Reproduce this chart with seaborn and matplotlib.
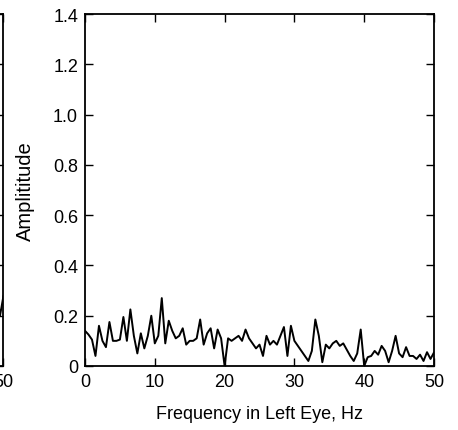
import numpy as np
import pandas as pd
import matplotlib
matplotlib.use("Agg")
import matplotlib.pyplot as plt
import seaborn as sns

# amplitude spectrum, left eye, 0.5 Hz steps from 0 to 50 Hz
freq_left = np.arange(0, 50.5, 0.5)
amp_left = [
    0.14, 0.125, 0.105, 0.04, 0.16, 0.10, 0.075, 0.175, 0.10, 0.10,
    0.105, 0.195, 0.10, 0.225, 0.12, 0.05, 0.13, 0.07, 0.12, 0.20,
    0.09, 0.12, 0.27, 0.09, 0.18, 0.14, 0.11, 0.12, 0.15, 0.085,
    0.10, 0.10, 0.11, 0.185, 0.085, 0.13, 0.15, 0.07, 0.145, 0.11,
    0.0, 0.11, 0.10, 0.11, 0.12, 0.10, 0.145, 0.11, 0.09, 0.07,
    0.085, 0.04, 0.12, 0.085, 0.10, 0.085, 0.12, 0.155, 0.04, 0.16,
    0.10, 0.08, 0.06, 0.04, 0.02, 0.06, 0.185, 0.12, 0.015, 0.085,
    0.07, 0.09, 0.10, 0.08, 0.09, 0.065, 0.04, 0.02, 0.05, 0.145,
    0.0, 0.035, 0.04, 0.06, 0.045, 0.08, 0.06, 0.015, 0.06, 0.12,
    0.05, 0.035, 0.075, 0.04, 0.04, 0.028, 0.045, 0.02, 0.055, 0.028,
    0.054,
]

# only the tail of the neighbouring panel is visible at the left edge
freq_other = [48.5, 49.0, 49.5, 50.0]
amp_other = [0.22, 0.30, 0.20, 0.28]

x_ticks = [0, 10, 20, 30, 40, 50]
y_ticks = [0, 0.2, 0.4, 0.6, 0.8, 1.0, 1.2, 1.4]
y_tick_labels = ["0", "0.2", "0.4", "0.6", "0.8", "1.0", "1.2", "1.4"]

sns.set_style("ticks")
plt.rcParams['font.family'] = ['Liberation Sans', 'DejaVu Sans']
plt.rcParams['font.size'] = 13
plt.rcParams['axes.labelcolor'] = 'black'
plt.rcParams['text.color'] = 'black'

df = pd.DataFrame({'freq': freq_left, 'amp': amp_left})
df_other = pd.DataFrame({'freq': freq_other, 'amp': amp_other})

fig = plt.figure(figsize=(4.58, 4.31), dpi=100)
W, H = 458, 431
ax = fig.add_axes([85 / W, 1 - 367 / H, 349 / W, 352 / H])
ax_other = fig.add_axes([(3.5 - 349) / W, 1 - 367 / H, 349 / W, 352 / H])

def style_axis(a):
    a.set_xlim(0, 50)
    a.set_ylim(0, 1.4)
    a.set_xticks(x_ticks)
    a.set_yticks(y_ticks)
    a.tick_params(direction='in', length=6, width=1, top=True, right=True,
                  labelsize=13, colors='black', pad=5)
    for s in a.spines.values():
        s.set_visible(True)
        s.set_linewidth(1.3)
        s.set_color('black')
    a.set_xlabel('')
    a.set_ylabel('')

sns.lineplot(data=df, x='freq', y='amp', ax=ax, color='black', linewidth=1.4)
style_axis(ax)
ax.set_yticklabels(y_tick_labels)
ax.set_xlabel('Frequency in Left Eye, Hz', fontsize=13, labelpad=11, color='black')
ax.set_ylabel('Amplititude', fontsize=14.5, labelpad=13, color='black')

sns.lineplot(data=df_other, x='freq', y='amp', ax=ax_other, color='black', linewidth=1.4)
style_axis(ax_other)
ax_other.set_yticklabels([])

fig.savefig('out.png', dpi=100)
